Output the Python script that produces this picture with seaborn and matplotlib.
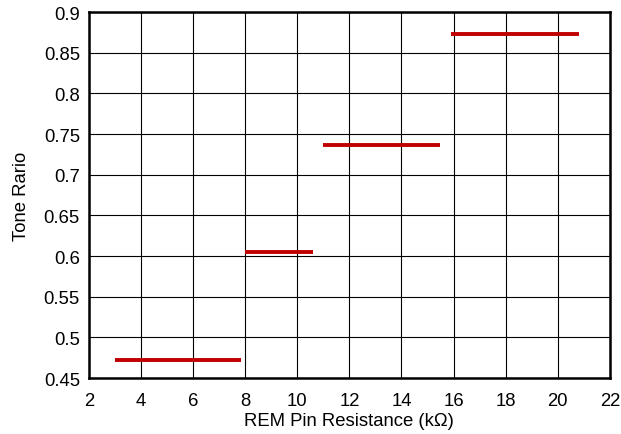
import matplotlib
matplotlib.use("Agg")
import matplotlib.pyplot as plt
import seaborn as sns
import pandas as pd

# Data: each step segment (start resistance, end resistance, tone ratio)
seg_start = [3.0, 8.0, 11.0, 15.9]
seg_end = [7.85, 10.6, 15.47, 20.8]
tone_ratio = [0.472, 0.605, 0.736, 0.873]

x_ticks = [2, 4, 6, 8, 10, 12, 14, 16, 18, 20, 22]
y_ticks = [0.45, 0.5, 0.55, 0.6, 0.65, 0.7, 0.75, 0.8, 0.85, 0.9]
y_tick_labels = ["0.45", "0.5", "0.55", "0.6", "0.65", "0.7", "0.75", "0.8", "0.85", "0.9"]

rows = []
for i, (s, e, r) in enumerate(zip(seg_start, seg_end, tone_ratio)):
    rows.append({"seg": i, "x": s, "y": r})
    rows.append({"seg": i, "x": e, "y": r})
df = pd.DataFrame(rows)

sns.set_theme(style="white")
plt.rcParams["font.family"] = ["Liberation Sans", "DejaVu Sans"]

fig = plt.figure(figsize=(6.21, 4.35), dpi=100)
ax = fig.add_axes([0.1433, 0.1287, 0.982 - 0.1433, 0.970 - 0.1287])

sns.lineplot(data=df, x="x", y="y", units="seg", estimator=None,
             color="#C00000", linewidth=2.8, ax=ax, solid_capstyle="butt")

ax.set_xlim(2, 22)
ax.set_ylim(0.45, 0.9)
ax.set_xticks(x_ticks)
ax.set_xticklabels([str(t) for t in x_ticks])
ax.set_yticks(y_ticks)
ax.set_yticklabels(y_tick_labels)
ax.grid(True, color="black", linewidth=0.8)
ax.set_axisbelow(True)
for sp in ax.spines.values():
    sp.set_color("black")
    sp.set_linewidth(1.8)
ax.tick_params(axis="both", labelsize=13.3, colors="black", length=0)
ax.tick_params(axis="x", pad=10)
ax.tick_params(axis="y", pad=6.5)
ax.set_xlabel("REM Pin Resistance (kΩ)", fontsize=13.3, color="black", labelpad=2)
ax.set_ylabel("Tone Rario", fontsize=13.3, color="black", labelpad=10)

fig.savefig("out.png", dpi=100)
